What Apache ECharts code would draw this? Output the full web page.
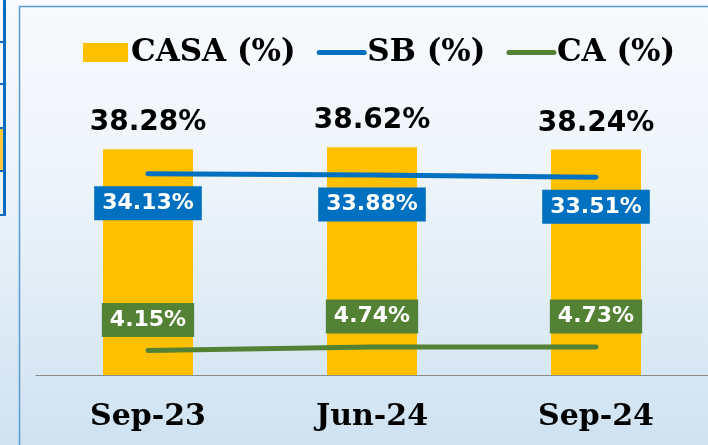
<!DOCTYPE html>
<html>
<head>
<meta charset="utf-8">
<script src="https://cdn.jsdelivr.net/npm/echarts@6/dist/echarts.min.js"></script>
<style>html,body{margin:0;padding:0;background:#fff}#c{width:708px;height:445px}</style>
</head>
<body>
<div id="c"></div>
<script>
var categories = ['Sep-23', 'Jun-24', 'Sep-24'];
var casa = [38.28, 38.62, 38.24];
var sb = [34.13, 33.88, 33.51];
var ca = [4.15, 4.74, 4.73];
var seriesNames = ['CASA (%)', 'SB (%)', 'CA (%)'];

var chart = echarts.init(document.getElementById('c'), null, {renderer: 'canvas'});
var serif = 'DejaVu Serif';
var sans = 'DejaVu Sans';
var pct = function (p) { return p.value + '%'; };

chart.setOption({
  animation: false,
  graphic: [
    {type: 'rect', z: -10, shape: {x: 0, y: 0, width: 708, height: 445},
     style: {fill: new echarts.graphic.LinearGradient(0, 0, 0, 1, [
       {offset: 0, color: '#F8FAFD'}, {offset: 0.4, color: '#EEF4FA'}, {offset: 1, color: '#CFE2F1'}])}},
    {type: 'rect', z: -9, shape: {x: 19.5, y: 6.5, width: 700, height: 450},
     style: {fill: 'none', stroke: '#5B9BD5', lineWidth: 1.5}},
    {type: 'rect', z: -9, shape: {x: 0, y: 128, width: 3, height: 42}, style: {fill: '#FFC83A'}},
    {type: 'rect', z: -9, shape: {x: 3, y: 0, width: 3, height: 216}, style: {fill: '#0A6CC0'}},
    {type: 'rect', z: -9, shape: {x: 0, y: 41, width: 6, height: 2}, style: {fill: '#0A6CC0'}},
    {type: 'rect', z: -9, shape: {x: 0, y: 83, width: 6, height: 2}, style: {fill: '#0A6CC0'}},
    {type: 'rect', z: -9, shape: {x: 0, y: 127, width: 6, height: 2}, style: {fill: '#0A6CC0'}},
    {type: 'rect', z: -9, shape: {x: 0, y: 170, width: 6, height: 2}, style: {fill: '#0A6CC0'}},
    {type: 'rect', z: -9, shape: {x: 0, y: 214, width: 6, height: 2}, style: {fill: '#0A6CC0'}}
  ],
  legend: {
    left: 83, top: 37, padding: 0,
    itemGap: 21, itemWidth: 45, itemHeight: 19,
    textStyle: {fontFamily: serif, fontWeight: 'bold', fontSize: 31, color: '#000', padding: [0,0,0,-2]},
    data: [
      {name: seriesNames[0], icon: 'rect'},
      {name: seriesNames[1], itemStyle: {opacity: 0}, lineStyle: {width: 5, cap: 'round'}},
      {name: seriesNames[2], itemStyle: {opacity: 0}, lineStyle: {width: 5, cap: 'round'}}
    ]
  },
  grid: {left: 36, right: -3, top: 80, bottom: 70, containLabel: false},
  xAxis: {
    type: 'category', data: categories,
    axisLine: {lineStyle: {color: '#8C8C8C', width: 1}},
    axisTick: {length: 10, lineStyle: {color: '#8C8C8C'}},
    axisLabel: {fontFamily: serif, fontWeight: 'bold', fontSize: 30, color: '#000', margin: 27}
  },
  yAxis: {type: 'value', min: 0, max: 50, show: false, splitLine: {show: false}},
  series: [
    {name: seriesNames[0], type: 'bar', data: casa, barWidth: 90, itemStyle: {color: '#FFC000'},
     label: {show: true, position: 'top', distance: 12, formatter: pct,
       fontFamily: sans, fontWeight: 'bold', fontSize: 28, color: '#000'}},
    {name: seriesNames[1], type: 'line', data: sb, symbol: 'circle', symbolSize: 1, showSymbol: true,
     lineStyle: {color: '#0070C0', width: 5, cap: 'round'}, itemStyle: {color: '#0070C0'},
     label: {show: true, position: 'bottom', distance: 12, formatter: pct,
       fontFamily: sans, fontWeight: 'bold', fontSize: 22, color: '#fff',
       backgroundColor: '#0070C0', padding: [6, 8, 6, 8]}},
    {name: seriesNames[2], type: 'line', data: ca, symbol: 'circle', symbolSize: 1, showSymbol: true,
     lineStyle: {color: '#548235', width: 5, cap: 'round'}, itemStyle: {color: '#548235'},
     label: {show: true, position: 'top', distance: 13, formatter: pct,
       fontFamily: sans, fontWeight: 'bold', fontSize: 22, color: '#fff',
       backgroundColor: '#548235', padding: [6, 8, 6, 8]}}
  ]
});
</script>
</body>
</html>
